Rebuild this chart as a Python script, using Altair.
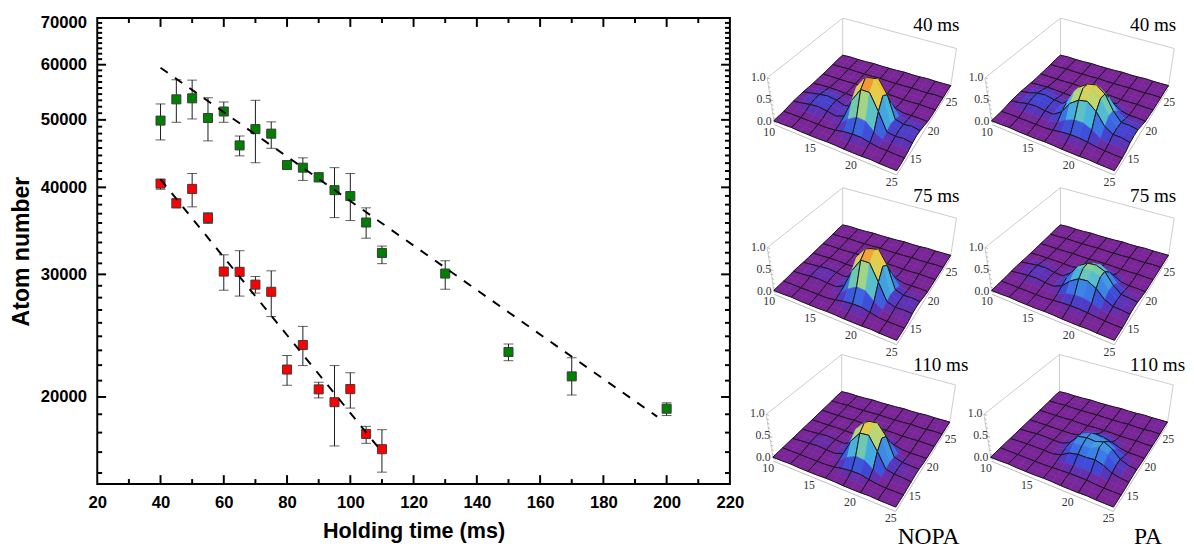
import altair as alt
import pandas as pd

# ---------- left panel data ----------
G_T = [40,45,50,55,60,65,70,75,80,85,90,95,100,105,110,130,150,170,200]
G_V = [49880,53510,53690,50310,51400,45950,48490,47770,43060,42690,41330,39630,38860,35610,32200,30080,23210,21410,19240]
G_HI = [52700,57090,57020,53790,53040,47400,53340,49670,43530,44100,42000,42690,41870,37380,32940,31380,23830,22770,19620]
G_LO = [46790,49600,50150,46640,49600,44390,43390,45510,42550,40930,40800,36190,35840,33810,31080,28560,22550,20130,18810]
R_T = [40,45,50,55,60,65,70,75,80,85,90,95,100,105,110]
R_V = [40500,37950,39790,36150,30280,30250,29000,28320,21900,23750,20510,19660,20530,17700,16830]
R_HI = [41060,38490,41870,36780,32000,32440,29790,30350,22940,25260,21000,22190,21670,18150,17950]
R_LO = [39750,37380,37500,35490,28470,27920,28200,26090,20790,22190,19940,17010,19280,17160,15600]
FIT_T = [40,197, 40,110]
FIT_V = [59410,18740, 41060,16680]
FIT_S = ["g","g","r","r"]
X_MAJOR = [40,60,80,100,120,140,160,180,200]
X_MINOR = [30,50,70,90,110,130,150,170,190,210]
X_LABELS = [20,40,60,80,100,120,140,160,180,200,220]
Y_MAJOR = [20000,30000,40000,50000,60000]
Y_LABELS = [20000,30000,40000,50000,60000,70000]
Y_MINOR = [15556,16667,17778,18889,21111,22222,23333,24444,25556,26667,27778,28889,
           31111,32222,33333,34444,35556,36667,37778,38889,41111,42222,43333,44444,45556,46667,47778,48889,
           51111,52222,53333,54444,55556,56667,57778,58889,61111,62222,63333,64444,65556,66667,67778,68889]

# ---------- surface data: rows run from y=10 to y=25, columns from x=10 to x=25, height in percent ----------
FRONT = [[3,3,4,3,3,3,4,4,3,3,3,4,3,3,3],
         [3,4,3,3,3,3,4,5,6,6,5,4,4,3,3]]
BACK = [[3,3,3,3,4,3,3,4,4,4,3,3,4,3,3],
        [3,4,3,3,3,4,3,3,4,3,3,4,3,3,3],
        [3,3,4,3,3,3,4,3,3,3,4,3,3,4,3],
        [4,3,3,4,3,3,3,4,3,3,3,3,3,3,4],
        [3,4,3,3,4,3,3,3,4,3,3,4,3,3,3]]
Z_NOPA_40 = [[3,4,4,4,4,4,6,10,12,12,8,5,5,4,4],
             [4,6,7,7,6,5,9,26,38,36,20,9,8,8,6],
             [5,8,12,14,11,7,14,58,88,88,52,14,11,13,10],
             [5,9,14,17,14,8,18,76,103,106,76,20,13,15,12],
             [5,9,13,16,13,7,15,64,92,96,66,17,12,14,11],
             [4,7,10,12,9,6,9,32,52,56,34,10,9,9,8],
             [3,5,6,6,5,4,5,10,16,18,10,5,5,5,4],
             [3,3,4,4,3,3,4,4,5,5,4,4,3,3,3]]
Z_PA_40 = [[3,4,4,4,4,4,6,9,11,11,9,6,5,4,4],
           [4,6,8,8,7,7,12,24,32,32,24,12,9,9,6],
           [6,9,14,15,12,11,24,50,64,68,52,26,15,15,11],
           [6,10,16,18,14,13,32,66,80,84,70,38,17,17,13],
           [6,10,16,18,14,12,30,64,78,82,68,36,16,16,13],
           [5,8,12,13,9,8,20,46,60,62,48,22,11,11,9],
           [4,6,7,7,6,5,9,20,28,30,22,10,6,6,5],
           [3,4,4,4,4,3,4,7,9,10,7,4,4,4,4]]
Z_NOPA_75 = [[3,3,3,3,3,3,6,10,12,12,8,4,3,3,3],
             [3,4,4,4,4,5,9,26,38,36,20,8,5,5,4],
             [4,5,7,8,6,5,14,56,86,86,50,14,8,9,8],
             [4,6,8,10,8,5,18,74,99,102,74,18,9,11,9],
             [3,5,7,9,7,4,15,64,90,94,64,16,9,10,8],
             [3,4,5,6,5,4,9,32,52,56,34,9,6,6,5],
             [3,3,4,4,3,3,5,10,16,18,10,4,4,4,3],
             [3,3,3,3,3,3,4,4,5,5,4,3,3,3,3]]
Z_PA_75 = [[3,3,3,3,3,3,5,7,8,8,7,5,4,3,3],
           [3,5,6,6,5,5,8,15,20,20,16,9,7,6,4],
           [4,7,9,10,7,6,14,32,44,46,36,18,10,9,7],
           [4,7,11,12,8,6,20,44,56,58,50,26,12,10,8],
           [4,7,10,11,7,6,20,44,56,58,50,26,11,9,7],
           [3,5,7,7,5,5,13,32,44,46,36,16,7,7,5],
           [3,4,4,4,4,3,7,15,22,23,17,7,4,4,3],
           [3,3,3,3,3,3,4,6,8,8,6,4,3,3,3]]
Z_NOPA_110 = [[3,3,3,3,3,3,5,9,11,11,7,4,3,3,3],
              [3,3,4,4,4,4,8,22,32,30,17,7,5,5,4],
              [3,5,6,8,6,5,12,48,72,74,44,12,8,7,5],
              [3,5,7,9,7,5,16,62,84,86,62,16,9,8,6],
              [3,4,6,8,6,4,13,54,76,78,54,14,8,7,6],
              [3,4,5,6,5,4,8,28,44,46,28,8,5,5,4],
              [3,3,3,4,3,3,4,9,14,15,9,4,3,3,3],
              [3,3,3,3,3,3,3,4,5,5,4,3,3,3,3]]
Z_PA_110 = [[3,3,3,3,3,3,4,5,6,6,6,4,3,3,3],
            [3,3,4,4,3,4,6,10,12,12,11,8,5,4,3],
            [3,4,5,5,5,4,9,20,24,24,26,20,10,6,4],
            [3,4,6,6,5,5,12,30,33,33,42,32,15,8,5],
            [3,4,6,6,5,5,13,34,38,36,42,32,15,8,5],
            [3,4,4,4,4,4,10,28,36,32,30,18,9,6,4],
            [3,3,3,3,3,3,6,15,22,20,15,8,4,4,3],
            [3,3,3,3,3,3,4,7,10,9,7,4,3,3,3]]
PANEL_Z = [Z_NOPA_40, Z_PA_40, Z_NOPA_75, Z_PA_75, Z_NOPA_110, Z_PA_110]
PANEL_LABEL = ["40 ms","40 ms","75 ms","75 ms","110 ms","110 ms"]
COLOR_STOPS = [0,5,10,17,30,45,55,68,84,100]
COLOR_HEX = ["#7a2698","#7a2698","#5c33b8","#3f48d8","#3a7ce8","#48b8dc","#80cfa0","#c0d870","#f2c840","#f08a30"]

# ---------- layout constants ----------
W, H = 645, 475
OX, OY = 744, 11          # page position of the right panel's origin
RW, RH = 1193 - OX, 537
PAGE_DX = [0, 222, 0, 222, -1, 221]
PAGE_DY = [0, 0, 173, 173, 343, 343]
C_L, C_F, C_R, C_B = (773,117), (898,168), (953,81), (843,50)
H_L, H_F, H_R, H_B = 45, 50, 39, 39
D_L, D_F, D_R, D_B = -7, 1, 6, 0


def hex2rgb(h):
    return tuple(int(h[i:i+2], 16) for i in (1, 3, 5))


def shade(z):
    z = max(COLOR_STOPS[0], min(COLOR_STOPS[-1], z))
    for k in range(len(COLOR_STOPS) - 1):
        a, b = COLOR_STOPS[k], COLOR_STOPS[k+1]
        if z <= b:
            t = (z - a) / (b - a)
            ca, cb = hex2rgb(COLOR_HEX[k]), hex2rgb(COLOR_HEX[k+1])
            return "#%02x%02x%02x" % tuple(round(ca[m] + (cb[m]-ca[m])*t) for m in range(3))
    return COLOR_HEX[-1]


def project3d(p, u, v, z):
    def bl(a, b, c, d):  # left, front, right, back
        return a*(1-u)*(1-v) + b*u*(1-v) + c*u*v + d*(1-u)*v
    sx = bl(C_L[0], C_F[0], C_R[0], C_B[0]) + PAGE_DX[p] - OX + z*bl(D_L, D_F, D_R, D_B)
    sy = bl(C_L[1], C_F[1], C_R[1], C_B[1]) + PAGE_DY[p] - OY - z*bl(H_L, H_F, H_R, H_B)
    return [round(sx, 2), round(sy, 2)]


def line_feature(pts, color, width):
    return {"type": "Feature", "geometry": {"type": "LineString", "coordinates": pts},
            "properties": {"fill": "transparent", "stroke": color, "sw": width}}


features, tick_rows, title_rows = [], [], []
for p, rows in enumerate(PANEL_Z):
    grid = FRONT + rows + BACK
    n = 14
    P = lambda u, v, z: project3d(p, u, v, z)
    for a, b in [((0,0,1),(0,1,1)), ((0,1,1),(1,1,1)), ((0,0,0),(0,0,1)), ((0,1,0),(0,1,1)), ((1,1,0),(1,1,1)),
                 ((0,0,0),(0,1,0)), ((0,1,0),(1,1,0))]:
        features.append(line_feature([P(*a), P(*b)], "#cccccc", 1))
    for zt in [0, .1, .2, .3, .4, .5, .6, .7, .8, .9, 1]:
        q = P(0, 0, zt)
        features.append(line_feature([q, [q[0]+(3 if round(zt*10) % 5 == 0 else 2), q[1]+1]], "#999999", .7))
    for a, b in [((0,0,-.06),(1,0,-.06)), ((1,0,-.06),(1,1,-.06))]:
        features.append(line_feature([P(*a), P(*b)], "#bbbbbb", 1))
    for j in range(n-1, -1, -1):
        for i in range(n):
            zs = [grid[j][i], grid[j][i+1], grid[j+1][i+1], grid[j+1][i]]
            c = [P(i/n, j/n, zs[0]/100), P((i+1)/n, j/n, zs[1]/100),
                 P((i+1)/n, (j+1)/n, zs[2]/100), P(i/n, (j+1)/n, zs[3]/100)]
            col = shade(sum(zs)/4)
            features.append({"type": "Feature",
                             "geometry": {"type": "Polygon", "coordinates": [c + [c[0]]]},
                             "properties": {"fill": col, "stroke": col, "sw": .6}})
            if j % 2 == 0:
                features.append(line_feature([c[0], c[1]], "#151515", 1))
            if (j+1) % 2 == 0:
                features.append(line_feature([c[3], c[2]], "#151515", 1))
            if i % 2 == 0:
                features.append(line_feature([c[0], c[3]], "#151515", 1))
            if (i+1) % 2 == 0:
                features.append(line_feature([c[1], c[2]], "#151515", 1))
    for zv, t, ox in [(1, "1.0", -9), (.5, "0.5", -7), (0, "0.0", -10)]:
        q = P(0, 0, zv)
        tick_rows.append({"t": t, "px": q[0]+ox, "py": q[1]-1})
    for xv in [10, 15, 20, 25]:
        q = P((xv-10)/15, 0, 0)
        tick_rows.append({"t": str(xv), "px": q[0]-5, "py": q[1]+10})
    for yv in [15, 20, 25]:
        q = P(1, (yv-10)/15, 0)
        tick_rows.append({"t": str(yv), "px": q[0]+1, "py": q[1]+16})
    base_y = [24, 24, 198, 198, 371, 371][p]
    title_rows.append({"t": PANEL_LABEL[p], "px": 915 + (221 if p % 2 else 0) - OX, "py": base_y - OY})

G_DF = pd.DataFrame({"t": G_T, "v": G_V, "hi": G_HI, "lo": G_LO})
R_DF = pd.DataFrame({"t": R_T, "v": R_V, "hi": R_HI, "lo": R_LO})
FIT_DF = pd.DataFrame({"t": FIT_T, "v": FIT_V, "s": FIT_S})

x_scale = alt.Scale(domain=[20, 220], nice=False, zero=False)
y_scale = alt.Scale(type="log", domain=[15000, 70000], nice=False)
X_AXIS = alt.Axis(values=X_LABELS, ticks=False, domain=False, grid=False, labelFont="Liberation Sans",
                  labelFontWeight="bold", labelFontSize=17, labelColor="black", labelPadding=11,
                  titleFont="Liberation Sans", titleFontWeight="bold", titleFontSize=22, titleColor="black",
                  titlePadding=11, labelOverlap=False, labelFlush=False)
Y_AXIS = alt.Axis(values=Y_LABELS, ticks=False, domain=False, grid=False, format="d",
                  labelFont="Liberation Sans", labelFontWeight="bold", labelFontSize=17, labelColor="black",
                  labelPadding=11, labelOverlap=False, labelFlush=True, labelFlushOffset=3,
                  titleFont="Liberation Sans", titleFontWeight="bold", titleFontSize=23.5, titleColor="black",
                  titlePadding=7)
X_T, Y_T = "Holding time (ms)", "Atom number"


def XE():
    return alt.X("t:Q", scale=x_scale, title=X_T, axis=X_AXIS)


def YE(field="v"):
    return alt.Y(f"{field}:Q", scale=y_scale, title=Y_T, axis=Y_AXIS)


def series(df, color):
    err = alt.Chart(df).mark_rule(color="#1a1a1a", strokeWidth=1).encode(x=XE(), y=YE("hi"), y2="lo:Q")
    cap_hi = alt.Chart(df).mark_tick(color="#1a1a1a", orient="horizontal", size=10, thickness=1).encode(x=XE(), y=YE("hi"))
    cap_lo = alt.Chart(df).mark_tick(color="#1a1a1a", orient="horizontal", size=10, thickness=1).encode(x=XE(), y=YE("lo"))
    pts = alt.Chart(df).mark_point(shape="square", filled=True, size=85, fill=color, stroke="#3a3a3a", strokeWidth=1, opacity=1).encode(x=XE(), y=YE())
    return [err, cap_hi, cap_lo, pts]


def xticks(vals, ln):
    df = pd.DataFrame({"t": vals})
    return [alt.Chart(df).mark_rule(color="black", strokeWidth=2).encode(x=XE(), y=alt.value(H), y2=alt.value(H-ln)),
            alt.Chart(df).mark_rule(color="black", strokeWidth=2).encode(x=XE(), y=alt.value(0), y2=alt.value(ln))]


def yticks(vals, ln):
    df = pd.DataFrame({"v": vals})
    return [alt.Chart(df).mark_rule(color="black", strokeWidth=2).encode(y=YE(), x=alt.value(0), x2=alt.value(ln)),
            alt.Chart(df).mark_rule(color="black", strokeWidth=2).encode(y=YE(), x=alt.value(W), x2=alt.value(W-ln))]


fit = alt.Chart(FIT_DF).mark_line(color="black", strokeWidth=2, strokeDash=[9, 9]).encode(x=XE(), y=YE(), detail="s:N")
left = alt.layer(*xticks(X_MAJOR, 9), *xticks(X_MINOR, 5), *yticks(Y_MAJOR, 9), *yticks(Y_MINOR, 5),
                 *series(G_DF, "#008000"), *series(R_DF, "#ff0000"), fit).properties(
    width=W, height=H, view=alt.ViewBackground(stroke="black", strokeWidth=2))

idn = dict(type="identity", scale=1, translate=[0, 0])
surf = alt.Chart(alt.Data(values=features)).mark_geoshape().encode(
    fill=alt.Fill("properties.fill:N", scale=None),
    stroke=alt.Stroke("properties.stroke:N", scale=None),
    strokeWidth=alt.StrokeWidth("properties.sw:Q", scale=None),
).project(**idn)
ticks_txt = alt.Chart(pd.DataFrame(tick_rows)).mark_text(font="Liberation Serif", fontSize=12, color="#333333").encode(
    longitude="px:Q", latitude="py:Q", text="t:N").project(**idn)
titles_txt = alt.Chart(pd.DataFrame(title_rows)).mark_text(font="Liberation Serif", fontSize=19.5, color="black", align="left", baseline="alphabetic").encode(
    longitude="px:Q", latitude="py:Q", text="t:N").project(**idn)
BOTTOM = pd.DataFrame({"t": ["NOPA", "PA"], "px": [899 - OX, 1140 - OX], "py": [547 - OY, 547 - OY]})
bottom_txt = alt.Chart(BOTTOM).mark_text(font="Liberation Serif", fontSize=24, color="black", align="left", baseline="alphabetic").encode(
    longitude="px:Q", latitude="py:Q", text="t:N").project(**idn)
right = alt.layer(surf, ticks_txt, titles_txt, bottom_txt).properties(width=RW, height=RH)

chart = alt.hconcat(left, right, spacing=-16).configure(padding=0).configure_view(stroke=None)
chart.save("out.html", embed_options={"renderer": "svg", "actions": False})
